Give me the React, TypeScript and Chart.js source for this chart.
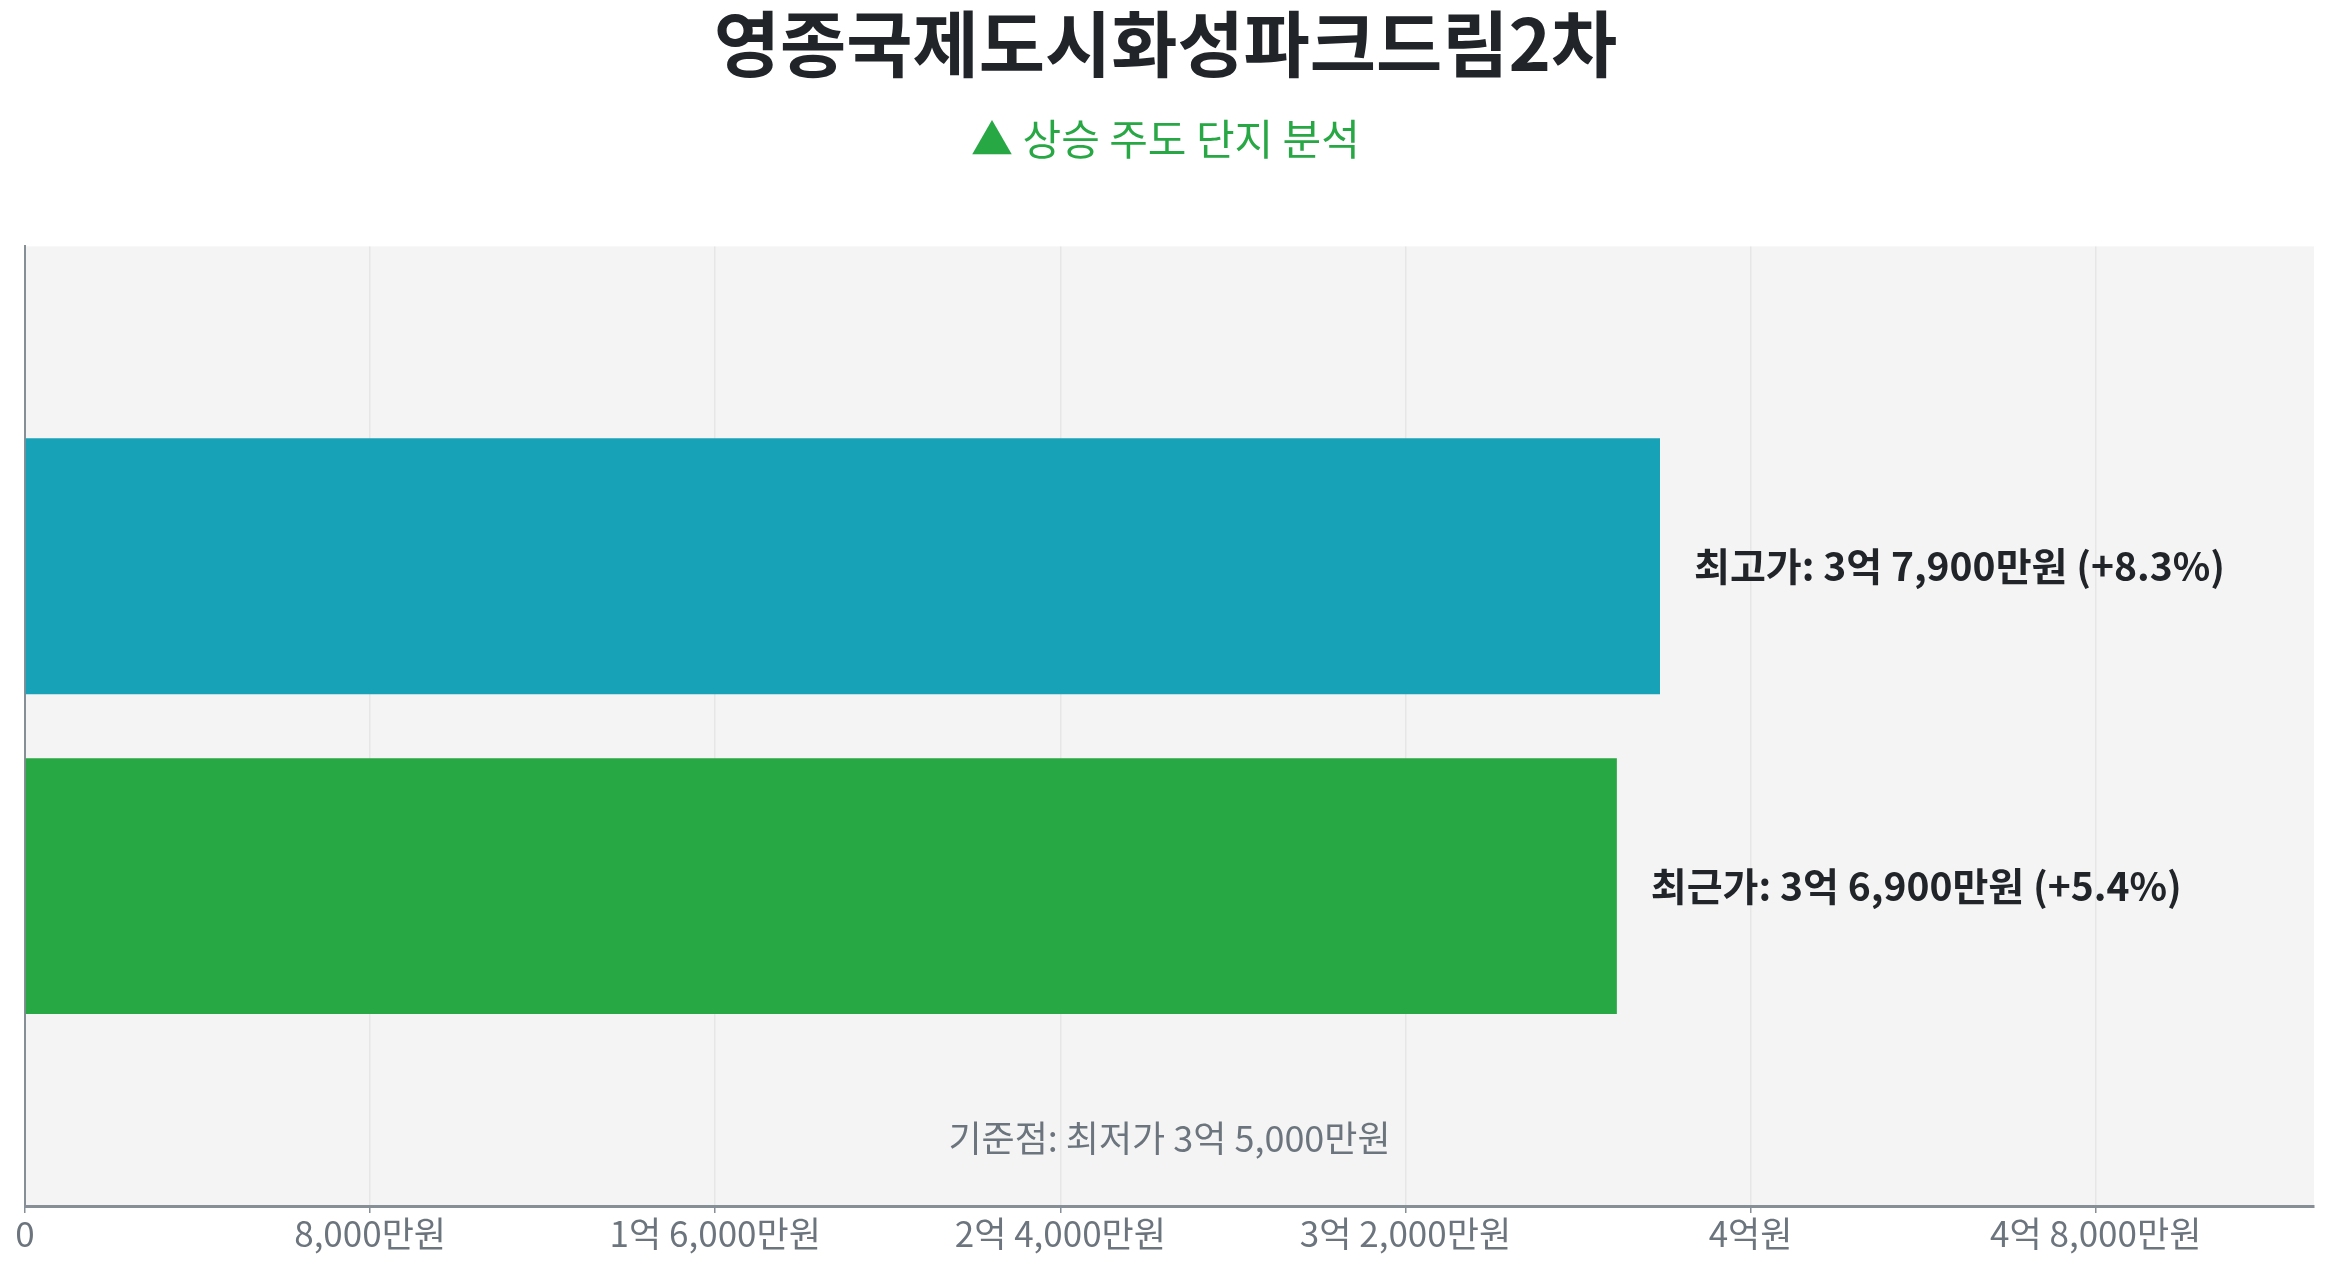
import { Chart, registerables, type ChartConfiguration, type Plugin } from "chart.js";
import { useEffect, useRef } from "react";

Chart.register(...registerables);

// values are in 만원
const categories = ["", "최고가", "최근가", ""];
const prices = [null, 37900, 36900, null];
const changes = [null, 8.3, 5.4, null];
const barColors = ["#17a2b8", "#17a2b8", "#28a745", "#28a745"];
const lowestPrice = 35000;
const xTicks = [0, 8000, 16000, 24000, 32000, 40000, 48000];

const FONT = "'Noto Sans CJK KR', 'Noto Sans', sans-serif";

function won(value: number) {
  if (value === 0) return "0";
  const eok = Math.floor(value / 10000);
  const man = value % 10000;
  if (eok === 0) return `${man.toLocaleString("en-US")}만원`;
  if (man === 0) return `${eok}억원`;
  return `${eok}억 ${man.toLocaleString("en-US")}만원`;
}

const plotBackground: Plugin<"bar"> = {
  id: "plotBackground",
  beforeDraw(chart) {
    const { ctx, chartArea } = chart;
    ctx.save();
    ctx.fillStyle = "#f4f4f4";
    ctx.fillRect(chartArea.left, chartArea.top, chartArea.width, chartArea.height);
    ctx.restore();
  }
};

const barLabels: Plugin<"bar"> = {
  id: "barLabels",
  afterDatasetsDraw(chart) {
    const { ctx, chartArea } = chart;
    const meta = chart.getDatasetMeta(0);
    ctx.save();
    ctx.font = `bold 39px ${FONT}`;
    ctx.fillStyle = "#212529";
    ctx.textBaseline = "middle";
    ctx.textAlign = "left";
    meta.data.forEach((bar, i) => {
      const price = prices[i];
      const change = changes[i];
      if (price == null || change == null) return;
      ctx.fillText(`${categories[i]}: ${won(price)} (+${change}%)`, bar.x + 34, bar.y);
    });
    ctx.font = `36px ${FONT}`;
    ctx.fillStyle = "#6c757d";
    ctx.textAlign = "center";
    ctx.fillText(
      `기준점: 최저가 ${won(lowestPrice)}`,
      (chartArea.left + chartArea.right) / 2,
      chartArea.bottom - 68
    );
    ctx.restore();
  }
};

function chartConfig(): ChartConfiguration<"bar"> {
  const maxValue = Math.max(...prices.filter((p): p is number => p != null));
  return {
    type: "bar",
    data: {
      labels: categories,
      datasets: [
        {
          label: "가격",
          data: prices,
          backgroundColor: barColors,
          borderWidth: 0,
          categoryPercentage: 0.8,
          barPercentage: 1
        }
      ]
    },
    options: {
      animation: false,
      indexAxis: "y",
      responsive: true,
      maintainAspectRatio: false,
      layout: {
        padding: { left: 9, right: 7, bottom: 5 }
      },
      plugins: {
        legend: { display: false },
        tooltip: { enabled: false },
        title: {
          display: true,
          text: "영종국제도시화성파크드림2차",
          color: "#212529",
          font: { family: FONT, size: 72, weight: "bold", lineHeight: 1.0 },
          padding: { top: 0, bottom: 34 }
        },
        subtitle: {
          display: true,
          text: "▲ 상승 주도 단지 분석",
          color: "#28a745",
          font: { family: FONT, size: 42, lineHeight: 1.2 },
          padding: { top: 0, bottom: 82 }
        }
      },
      scales: {
        x: {
          min: 0,
          max: maxValue * 1.4,
          afterBuildTicks: (scale) => {
            scale.ticks = xTicks.map((value) => ({ value }));
          },
          grid: {
            color: "#e6e6e6",
            tickColor: "#868e96",
            tickLength: 7,
            lineWidth: 1.5
          },
          border: { display: true, color: "#868e96", width: 3 },
          ticks: {
            color: "#6c757d",
            font: { family: FONT, size: 35 },
            padding: 0,
            callback: (value) => won(Number(value))
          }
        },
        y: {
          offset: false,
          grid: { display: false },
          border: { display: true, color: "#868e96", width: 2 },
          ticks: { display: false }
        }
      }
    },
    plugins: [plotBackground, barLabels]
  };
}

function PriceChart() {
  const canvasRef = useRef<HTMLCanvasElement | null>(null);

  useEffect(() => {
    const canvas = canvasRef.current;
    if (!canvas) return;
    const chart = new Chart(canvas, chartConfig());
    return () => chart.destroy();
  }, []);

  return (
    <div style={{ position: "relative", width: "100%", height: "calc(100vh - 16px)" }}>
      <canvas ref={canvasRef} />
    </div>
  );
}

export default function App() {
  return <PriceChart />;
}
